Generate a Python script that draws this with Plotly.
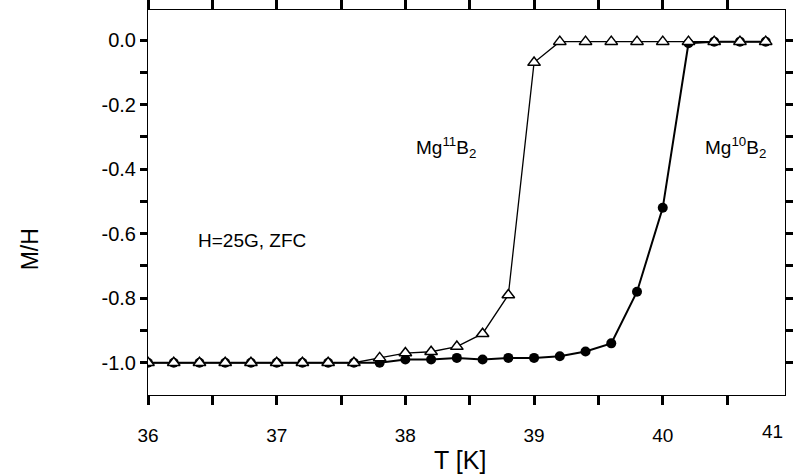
import plotly.graph_objects as go

# Data
T_11 = [36.0, 36.2, 36.4, 36.6, 36.8, 37.0, 37.2, 37.4, 37.6, 37.8,
        38.0, 38.2, 38.4, 38.6, 38.8, 39.0, 39.2, 39.4, 39.6, 39.8,
        40.0, 40.2, 40.4, 40.6, 40.8]
MH_11 = [-1.0, -1.0, -1.0, -1.0, -1.0, -1.0, -1.0, -1.0, -1.0, -0.985,
         -0.97, -0.966, -0.95, -0.91, -0.79, -0.07, -0.005, -0.005, -0.005, -0.005,
         -0.005, -0.005, -0.005, -0.005, -0.005]

T_10 = [36.0, 36.2, 36.4, 36.6, 36.8, 37.0, 37.2, 37.4, 37.6, 37.8,
        38.0, 38.2, 38.4, 38.6, 38.8, 39.0, 39.2, 39.4, 39.6, 39.8,
        40.0, 40.2, 40.4, 40.6, 40.8]
MH_10 = [-1.0, -1.0, -1.0, -1.0, -1.0, -1.0, -1.0, -1.0, -1.0, -1.0,
         -0.99, -0.99, -0.985, -0.99, -0.985, -0.985, -0.98, -0.965, -0.94, -0.78,
         -0.52, -0.01, -0.005, -0.005, -0.005]

x_tickvals = [36.0, 36.5, 37.0, 37.5, 38.0, 38.5, 39.0, 39.5, 40.0, 40.5]
x_ticktext = ["36", "", "37", "", "38", "", "39", "", "40", ""]
x_last_tick = "41"
y_tickvals = [0.0, -0.1, -0.2, -0.3, -0.4, -0.5, -0.6, -0.7, -0.8, -0.9, -1.0]
y_ticktext = ["0.0", "", "-0.2", "", "-0.4", "", "-0.6", "", "-0.8", "", "-1.0"]

FONT = "Liberation Sans, Arial, sans-serif"

fig = go.Figure()
fig.add_trace(go.Scatter(
    x=T_10, y=MH_10, mode="lines+markers", name="Mg10B2",
    line=dict(color="black", width=2),
    marker=dict(symbol="circle", size=10, color="black"),
))
fig.add_trace(go.Scatter(
    x=T_11, y=MH_11, mode="lines+markers", name="Mg11B2",
    line=dict(color="black", width=1.3),
    marker=dict(symbol="triangle-up", size=11, color="white",
                line=dict(color="black", width=1.5)),
))

fig.update_layout(
    width=793, height=476,
    margin=dict(l=148, r=0, t=10, b=81),
    plot_bgcolor="white", paper_bgcolor="white",
    showlegend=False,
)
fig.update_xaxes(
    range=[36, 40.95], showgrid=False, zeroline=False, showline=True,
    linecolor="black", mirror="allticks",
    tickmode="array", tickvals=x_tickvals, ticktext=x_ticktext,
    ticks="outside", ticklen=9, tickwidth=2.5, tickcolor="black",
    tickfont=dict(family=FONT, size=19, color="black"), ticklabelstandoff=14,
)
fig.update_yaxes(
    range=[-1.1, 0.093], showgrid=False, zeroline=False, showline=True,
    linecolor="black", mirror="allticks",
    tickmode="array", tickvals=y_tickvals, ticktext=y_ticktext,
    ticks="outside", ticklen=7, tickwidth=2.5, tickcolor="black",
    tickfont=dict(family=FONT, size=20, color="black"),
)

fig.add_annotation(text=x_last_tick, xref="paper", yref="paper", x=1.0, y=-0.095,
                   xanchor="right", yanchor="middle", showarrow=False,
                   font=dict(family=FONT, size=19, color="black"))
fig.add_annotation(text="T [K]", xref="paper", yref="paper", x=0.49, y=-0.17,
                   xanchor="center", yanchor="middle", showarrow=False,
                   font=dict(family=FONT, size=25, color="black"))
fig.add_annotation(text="M/H", xref="paper", yref="paper", x=-0.186, y=0.377,
                   textangle=-90, xanchor="center", yanchor="middle", showarrow=False,
                   font=dict(family=FONT, size=23, color="black"))
fig.add_annotation(text="Mg<sup>11</sup>B<sub>2</sub>", xref="paper", yref="paper",
                   x=(417 - 148) / 645, y=(395 - 147) / 385,
                   xanchor="left", yanchor="middle", showarrow=False,
                   font=dict(family=FONT, size=19, color="black"))
fig.add_annotation(text="Mg<sup>10</sup>B<sub>2</sub>", xref="paper", yref="paper",
                   x=(710 - 148) / 645, y=(395 - 147) / 385,
                   xanchor="left", yanchor="middle", showarrow=False,
                   font=dict(family=FONT, size=19, color="black"))
fig.add_annotation(text="H=25G, ZFC", xref="paper", yref="paper",
                   x=(197 - 148) / 645, y=(395 - 240) / 385,
                   xanchor="left", yanchor="middle", showarrow=False,
                   font=dict(family=FONT, size=19, color="black"))

fig.write_html("out.html")
